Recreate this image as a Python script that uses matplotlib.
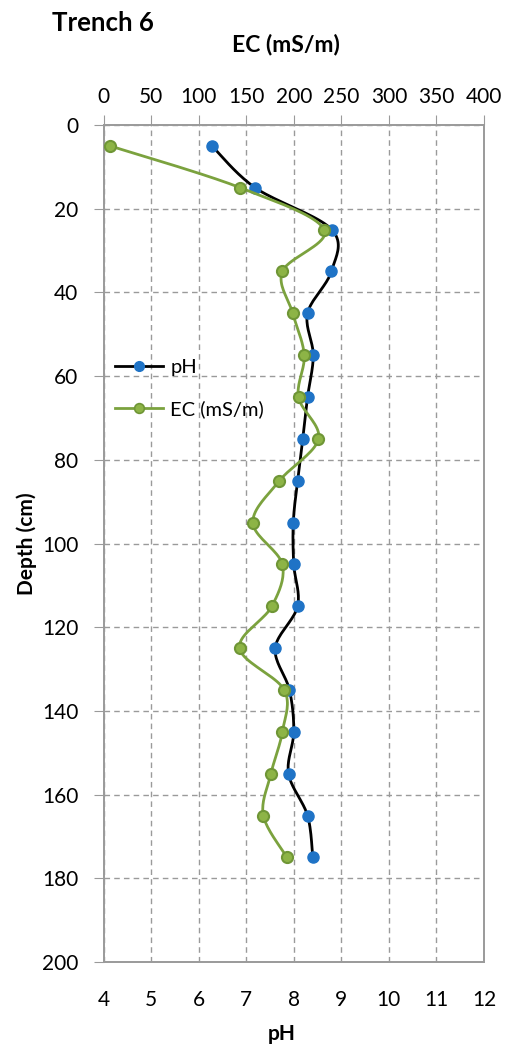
import numpy as np
import matplotlib
matplotlib.use("Agg")
import matplotlib.pyplot as plt

plt.rcParams['font.family'] = ['Lato', 'DejaVu Sans']

# Depth profile, Trench 6
depth = [5, 15, 25, 35, 45, 55, 65, 75, 85, 95, 105, 115, 125, 135, 145, 155, 165, 175]
ph = [6.28, 7.19, 8.80, 8.79, 8.29, 8.41, 8.29, 8.19, 8.08, 7.99, 8.00, 8.08, 7.61,
      7.91, 8.00, 7.89, 8.29, 8.40]
ec = [7, 144, 232, 188, 199, 211, 205, 226, 185, 157, 188, 177, 143,
      190, 188, 176, 168, 193]

ph_ticks = list(range(4, 13))
ec_ticks = list(range(0, 401, 50))
depth_ticks = list(range(0, 201, 20))


def smooth(xs, ys, n=20, tension=0.5):
    """Cardinal spline through the points (similar to a smoothed line)."""
    xs = np.asarray(xs, float)
    ys = np.asarray(ys, float)
    px = np.concatenate([[xs[0]], xs, [xs[-1]]])
    py = np.concatenate([[ys[0]], ys, [ys[-1]]])
    ox, oy = [], []
    t = np.linspace(0, 1, n, endpoint=False)
    for i in range(1, len(px) - 2):
        m1x = tension * (px[i + 1] - px[i - 1])
        m1y = tension * (py[i + 1] - py[i - 1])
        m2x = tension * (px[i + 2] - px[i])
        m2y = tension * (py[i + 2] - py[i])
        h00 = 2 * t**3 - 3 * t**2 + 1
        h10 = t**3 - 2 * t**2 + t
        h01 = -2 * t**3 + 3 * t**2
        h11 = t**3 - t**2
        ox.extend(h00 * px[i] + h10 * m1x + h01 * px[i + 1] + h11 * m2x)
        oy.extend(h00 * py[i] + h10 * m1y + h01 * py[i + 1] + h11 * m2y)
    ox.append(xs[-1])
    oy.append(ys[-1])
    return np.array(ox), np.array(oy)


fig = plt.figure(figsize=(5.06, 10.44), dpi=100)
ax = fig.add_axes([103.5 / 506, 82 / 1044, 380.5 / 506, 837 / 1044])
ax2 = ax.twiny()

blue = '#1F73C6'
green_face = '#8DB446'
green_edge = '#6F9636'
green_line = '#7BA23E'
grid_c = '#9A9A9A'
spine_c = '#9A9A9A'

# pH curve on the bottom axis
sx, sy = smooth(ph, depth)
ax.plot(sx, sy, color='black', lw=2.0, zorder=3)
ax.plot(ph, depth, ls='none', marker='o', ms=8, color=blue, mec=blue, zorder=4)

# EC curve on the top axis
ex, ey = smooth(ec, depth)
ax2.plot(ex, ey, color=green_line, lw=2.0, zorder=3)
ax2.plot(ec, depth, ls='none', marker='o', ms=8, mfc=green_face, mec=green_edge,
         mew=1.5, zorder=4)

ax.set_xlim(4, 12)
ax.set_ylim(200, 0)
ax2.set_xlim(0, 400)
ax.set_xticks(ph_ticks)
ax.set_yticks(depth_ticks)
ax2.set_xticks(ec_ticks)

ax.grid(True, which='major', ls=(0, (4, 3)), color=grid_c, lw=1.0)
ax.set_axisbelow(True)

for a in (ax, ax2):
    for s in a.spines.values():
        s.set_color(spine_c)
        s.set_linewidth(1.2)

ax.tick_params(axis='x', length=0, labelsize=15, pad=20, colors='black')
ax.tick_params(axis='y', length=7, direction='out', color=spine_c,
               labelsize=15, pad=11)
ax2.tick_params(axis='x', length=7, direction='out', color=spine_c,
                labelsize=15, pad=6)

ax.set_xlabel('pH', fontsize=15, fontweight='bold')
ax.xaxis.set_label_coords(0.469, -0.074)
ax.set_ylabel('Depth (cm)', fontsize=15, fontweight='bold')
ax.yaxis.set_label_coords(-0.175, 0.5)
ax2.set_xlabel('EC (mS/m)', fontsize=16.5, fontweight='bold')
ax2.xaxis.set_label_coords(0.48, 1.088)

fig.text(52 / 506, 1 - 23 / 1044, 'Trench 6', fontsize=18.5, fontweight='bold',
         va='center', ha='left')

# Legend with line+marker samples
h1, = ax.plot([], [], color='black', lw=2.0, marker='o', ms=7, mfc=blue, mec=blue)
h2, = ax.plot([], [], color=green_line, lw=2.0, marker='o', ms=7,
              mfc=green_face, mec=green_edge, mew=1.2)
leg = ax.legend([h1, h2], ['pH', 'EC (mS/m)'], loc='upper left',
                bbox_to_anchor=(0.030, 0.721), frameon=False, fontsize=14.5,
                handlelength=2.4, labelspacing=1.2, handletextpad=0.35,
                borderpad=0, borderaxespad=0)
leg.set_zorder(5)

fig.savefig('out.png', dpi=100)
